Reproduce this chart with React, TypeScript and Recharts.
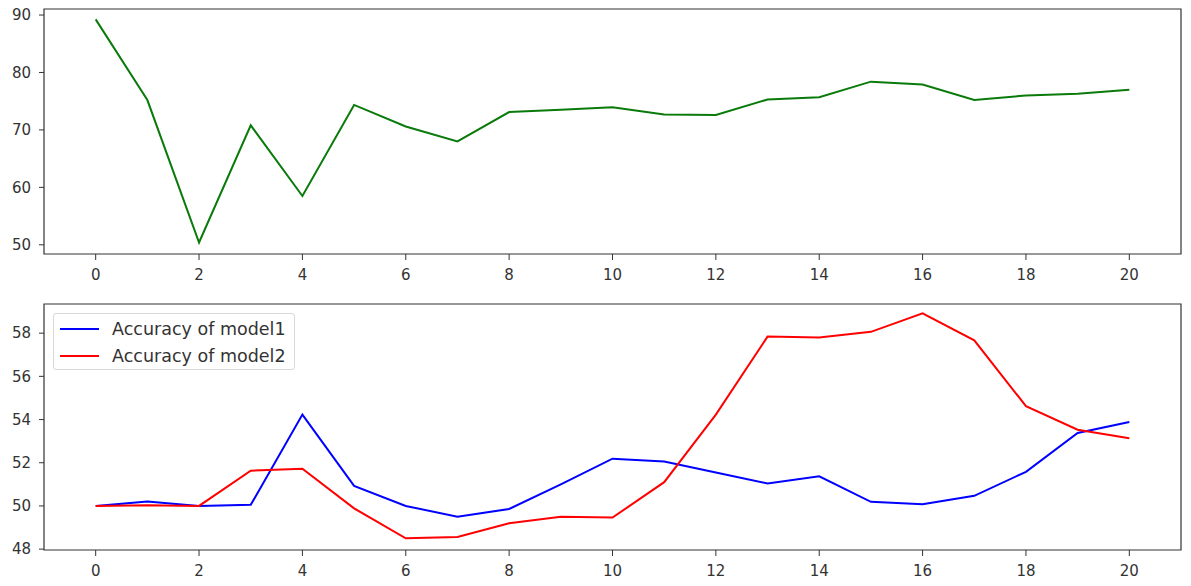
import { LineChart, Line, XAxis, YAxis, ReferenceArea } from 'recharts';

const EPOCHS = [0, 1, 2, 3, 4, 5, 6, 7, 8, 9, 10, 11, 12, 13, 14, 15, 16, 17, 18, 19, 20];
const OVERALL = [89.25, 75.2, 50.4, 70.8, 58.5, 74.35, 70.6, 68.0, 73.1, 73.5, 73.95, 72.7, 72.6, 75.3, 75.7, 78.4, 77.9, 75.2, 76.0, 76.3, 77.0];
const MODEL1 = [50.0, 50.2, 50.0, 50.05, 54.23, 50.93, 50.0, 49.5, 49.86, 51.0, 52.19, 52.06, 51.55, 51.04, 51.37, 50.19, 50.08, 50.47, 51.58, 53.38, 53.89];
const MODEL2 = [50.0, 50.03, 50.0, 51.63, 51.72, 49.89, 48.5, 48.56, 49.2, 49.5, 49.46, 51.1, 54.23, 57.84, 57.8, 58.06, 58.92, 57.67, 54.62, 53.53, 53.13];

const X_TICKS = [0, 2, 4, 6, 8, 10, 12, 14, 16, 18, 20];
const TOP_Y_TICKS = [50, 60, 70, 80, 90];
const BOTTOM_Y_TICKS = [48, 50, 52, 54, 56, 58];
const SERIES_NAMES = ['Accuracy of model1', 'Accuracy of model2'];

const X_DOMAIN: [number, number] = [-1, 21];
const TOP_Y_DOMAIN: [number, number] = [48.4, 91.05];
const BOTTOM_Y_DOMAIN: [number, number] = [47.96, 59.35];

const topData = EPOCHS.map((e, i) => ({ epoch: e, acc: OVERALL[i] }));
const bottomData = EPOCHS.map((e, i) => ({ epoch: e, m1: MODEL1[i], m2: MODEL2[i] }));

const FONT = '"DejaVu Sans", sans-serif';
const INK = '#333';
const BLUE = '#0000ff';
const RED = '#ff0000';
const tickStyle = { fontSize: 15, fill: INK, fontFamily: FONT };

// matplotlib-style legend box, sits over the bottom plot
function LegendBox() {
  const colors = [BLUE, RED];
  return (
    <div
      style={{
        position: 'absolute',
        left: 53,
        top: 23,
        width: 242,
        height: 57,
        boxSizing: 'border-box',
        border: '1px solid #d9d9d9',
        borderRadius: 3,
        background: '#fff',
        padding: '1px 0 0 6px',
        fontFamily: FONT,
        fontSize: 17.5,
        color: INK,
        whiteSpace: 'nowrap',
      }}
    >
      {SERIES_NAMES.map((name, i) => (
        <div key={name} style={{ display: 'flex', alignItems: 'center', height: 27 }}>
          <span style={{ display: 'inline-block', width: 39, height: 2, background: colors[i], marginRight: 13 }} />
          {name}
        </div>
      ))}
    </div>
  );
}

export default function App() {
  return (
    <div style={{ position: 'absolute', left: 0, top: 0, width: 1191, height: 586, background: '#fff' }}>
      <LineChart width={1191} height={290} data={topData} margin={{ top: 9, right: 10, bottom: 0, left: 0 }}>
        <XAxis
          dataKey="epoch"
          type="number"
          domain={X_DOMAIN}
          ticks={X_TICKS}
          axisLine={false}
          tickLine={{ stroke: INK }}
          tickSize={6}
          tickMargin={9}
          height={36}
          tick={tickStyle}
        />
        <YAxis
          type="number"
          domain={TOP_Y_DOMAIN}
          ticks={TOP_Y_TICKS}
          axisLine={false}
          tickLine={{ stroke: INK }}
          tickSize={5}
          tickMargin={8}
          width={44}
          tick={tickStyle}
        />
        <ReferenceArea x1={X_DOMAIN[0]} x2={X_DOMAIN[1]} y1={TOP_Y_DOMAIN[0]} y2={TOP_Y_DOMAIN[1]} fill="none" stroke={INK} strokeWidth={1.2} />
        <Line type="linear" dataKey="acc" stroke="#0a7a0a" strokeWidth={2} dot={false} isAnimationActive={false} />
      </LineChart>
      <div style={{ position: 'relative', width: 1191, height: 296 }}>
        <LineChart width={1191} height={296} data={bottomData} margin={{ top: 14, right: 10, bottom: 0, left: 0 }}>
          <XAxis
            dataKey="epoch"
            type="number"
            domain={X_DOMAIN}
            ticks={X_TICKS}
            axisLine={false}
            tickLine={{ stroke: INK }}
            tickSize={6}
            tickMargin={9}
            height={36}
            tick={tickStyle}
          />
          <YAxis
            type="number"
            domain={BOTTOM_Y_DOMAIN}
            ticks={BOTTOM_Y_TICKS}
            axisLine={false}
            tickLine={{ stroke: INK }}
            tickSize={5}
            tickMargin={8}
            width={44}
            tick={tickStyle}
          />
          <ReferenceArea x1={X_DOMAIN[0]} x2={X_DOMAIN[1]} y1={BOTTOM_Y_DOMAIN[0]} y2={BOTTOM_Y_DOMAIN[1]} fill="none" stroke={INK} strokeWidth={1.2} />
          <Line type="linear" dataKey="m1" name={SERIES_NAMES[0]} stroke={BLUE} strokeWidth={2} dot={false} isAnimationActive={false} />
          <Line type="linear" dataKey="m2" name={SERIES_NAMES[1]} stroke={RED} strokeWidth={2} dot={false} isAnimationActive={false} />
        </LineChart>
        <LegendBox />
      </div>
    </div>
  );
}
